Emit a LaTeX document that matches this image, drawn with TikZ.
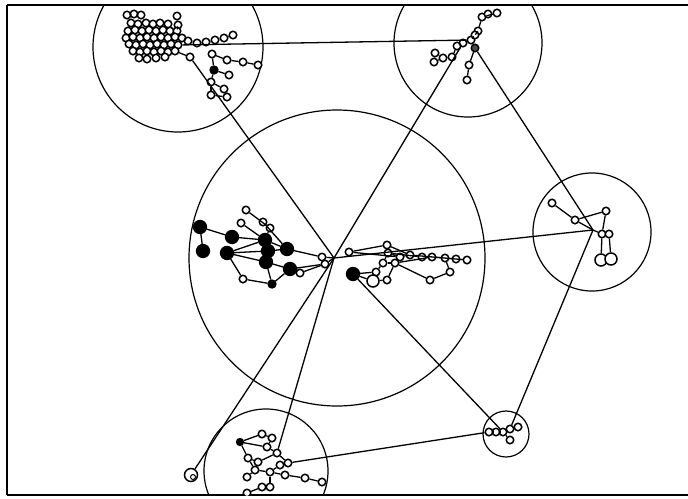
\documentclass[tikz,border=0pt]{standalone}
\usepackage{tikz}

\begin{document}
\begin{tikzpicture}[x=1pt,y=-1pt,line width=1.3pt,
  vtx/.style={circle,draw,fill=white,inner sep=0pt,minimum size=7.5pt,line width=1.5pt},
  big vtx/.style={vtx,minimum size=12pt},
  hub/.style={circle,draw,fill=black,inner sep=0pt,minimum size=13pt},
  small hub/.style={hub,minimum size=8pt},
  group/.style={circle,draw,inner sep=0pt,line width=1.2pt}]

  \useasboundingbox (0,0) rectangle (688,498);

  % frame
  \draw[line width=2pt] (7,5) -- (688,5);
  \draw[line width=1.4pt] (7,5) -- (7,495);
  \draw[line width=1.1pt] (7,495) -- (688,495);

  \begin{scope}
  \clip (7,5) rectangle (688,495);

  % group circles
  \node[group,minimum size=170pt] (gTL) at (178,47) {};
  \node[group,minimum size=148pt] (gTR) at (468,43) {};
  \node[group,minimum size=296pt] (gC) at (337,258) {};
  \node[group,minimum size=118pt] (gR) at (592,232) {};
  \node[group,minimum size=124pt] (gBL) at (266,471) {};
  \node[group,minimum size=46pt] (gBR) at (506,434) {};

  \coordinate (chub) at (334,258);
  \coordinate (rhub) at (593,230);

  % top left group
  \foreach \n/\x/\y in {tl1/127/15,tl2/134/14,tl3/141/15,tl4/177/16,
      tl5/131/23,tl6/138/24,tl7/146/23,tl8/153/24,tl9/160/23,tl10/168/24,tl11/178/25,
      tl12/128/31,tl13/135/30,tl14/142/31,tl15/149/30,tl16/156/31,tl17/163/30,tl18/170/31,tl19/177/31,
      tl20/126/38,tl21/133/37,tl22/140/38,tl23/147/37,tl24/154/38,tl25/161/37,tl26/168/38,tl27/175/37,tl28/182/38,
      tl29/129/44,tl30/136/45,tl31/143/44,tl32/150/45,tl33/157/44,tl34/164/45,tl35/171/44,tl36/178/45,
      tl37/133/51,tl38/140/52,tl39/147/51,tl40/154/52,tl41/161/51,tl42/168/52,tl43/175/51,
      tl44/139/58,tl45/147/59,tl46/156/58,tl47/165/57,
      tlc1/188/41,tlc2/197/43,tlc3/206/42,tlc4/215/40,tlc5/224/38,tlc6/233/35,
      tlq1/190/57,tlq2/212/54,tlq3/227/60,tlq4/243/62,tlq5/258/65,
      tlq7/229/75,tlq8/211/82,tlq9/224/89,tlq10/211/95,tlq11/227/97}
    \node[vtx] (\n) at (\x,\y) {};
  \node[small hub] (tlq6) at (214,70) {};

  % top right group
  \foreach \n/\x/\y in {tr0/471/40,tr1/482/17,tr2/488/14,tr3/497/13,tr4/478/31,tr5/475/35,
      tr6/463/43,tr7/457/46,tr9/469/65,tr10/467/80,
      tr11/435/53,tr12/434/62,tr13/443/58,tr14/452/57}
    \node[vtx] (\n) at (\x,\y) {};
  \node[vtx,fill=black!70] (tr8) at (475,48) {};

  % right group
  \foreach \n/\x/\y in {r1/552/203,r2/575/220,r3/606/211,r4/602/234,r5/609/234}
    \node[vtx] (\n) at (\x,\y) {};
  \node[big vtx] (r6) at (601,260) {};
  \node[big vtx] (r7) at (611,259) {};

  % centre group
  \foreach \n/\x/\y in {c1/200/227,c2/203/251,c3/232/237,c4/227/253,c5/265/240,
      c6/268/251,c7/266/262,c8/287/249,c9/290/269,c10/353/274}
    \node[hub] (\n) at (\x,\y) {};
  \node[small hub] (c11) at (272,284) {};
  \foreach \n/\x/\y in {c12/246/210,c13/241/223,c14/263/222,c15/270/228,c16/243/279,
      c17/300/273,c18/322/257,c19/325/264,c20/349/252,
      c21/387/245,c22/388/253,c23/395/263,c24/383/263,c25/400/257,c26/410/255,
      c27/422/257,c28/432/257,c29/445/258,c30/456/259,c31/467/260,
      c33/376/272,c34/387/280,c35/430/280,c36/450/272}
    \node[vtx] (\n) at (\x,\y) {};
  \node[big vtx] (c32) at (373,281) {};

  % bottom right group
  \foreach \n/\x/\y in {s1/489/432,s2/496/432,s3/503/432,s4/510/429,s5/518/427,s6/510/440}
    \node[vtx] (\n) at (\x,\y) {};

  % bottom left group
  \node[big vtx,minimum size=13pt] (h0) at (191,475) {};
  \node[vtx,minimum size=5pt,line width=1pt] (h0b) at (193,477) {};
  \foreach \n/\x/\y in {h2/262/434,h3/272/438,h4/267/447,h5/277/453,h6/288/463,
      h7/248/458,h8/255/470,h9/247/477,h10/285/475,h11/305/478,h12/322/482,
      h13/270/472,h14/262/487,h15/270/487,h16/247/493,h17/258/462,h18/280/465}
    \node[vtx] (\n) at (\x,\y) {};
  \node[small hub,minimum size=7pt] (h1) at (240,442) {};

  % edges inside groups
  \foreach \u/\v in {tl1/tl2,tl2/tl3,tl3/tl7,tl4/tl11,tl11/tl19,tl19/tl28,tl28/tlc1,
      tlc1/tlc2,tlc2/tlc3,tlc3/tlc4,tlc4/tlc5,tlc5/tlc6,tl43/tlq1,
      tlq2/tlq3,tlq3/tlq4,tlq4/tlq5,tlq2/tlq6,tlq6/tlq7,tlq6/tlq8,tlq8/tlq9,
      tlq8/tlq10,tlq10/tlq11,tlq9/tlq11,
      tr1/tr3,tr1/tr4,tr4/tr5,tr5/tr0,tr0/tr6,tr6/tr7,tr7/tr14,tr14/tr13,tr13/tr11,
      tr11/tr12,tr12/tr13,tr0/tr8,tr8/tr9,tr9/tr10,
      r1/r2,r2/r3,r3/r4,r4/r6,r5/r7,
      c1/c3,c1/c2,c3/c5,c4/c5,c4/c6,c4/c7,c4/c16,c13/c5,c12/c15,c14/c8,c15/c5,
      c5/c8,c6/c8,c7/c9,c7/c11,c16/c11,c11/c9,c9/c17,c8/c18,c9/c19,c17/c19,
      c20/c25,c20/c21,c21/c26,c22/c27,c25/c26,c26/c27,c27/c28,c28/c29,c29/c30,c30/c31,
      c22/c25,c10/c33,c10/c32,c33/c24,c24/c23,c23/c25,c34/c23,c32/c34,c23/c35,
      c35/c36,c36/c29,c24/c22,c23/c28,c26/c31,
      s1/s2,s2/s3,s3/s4,s4/s5,s3/s6,
      h1/h2,h2/h3,h3/h4,h1/h4,h4/h5,h5/h6,h1/h7,h7/h17,h17/h5,h7/h8,h8/h9,
      h8/h13,h13/h10,h10/h11,h11/h12,h13/h15,h15/h14,h14/h16,h6/h18,h18/h13}
    \draw (\u) -- (\v);
  \draw (r2) -- (rhub);
  \draw (rhub) -- (r4);
  \draw (c18) -- (chub);
  \draw (c19) -- (chub);

  % links between groups
  \draw (tl36) -- (tr0);
  \draw (tlq1) -- (chub);
  \draw (tr6) -- (chub);
  \draw (tr8) -- (rhub);
  \draw (chub) -- (rhub);
  \draw (rhub) -- (s4);
  \draw (c10) -- (s3);
  \draw (s1) -- (h6);
  \draw (chub) -- (h0);
  \draw (chub) -- (h5);
  \end{scope}

\end{tikzpicture}
\end{document}
